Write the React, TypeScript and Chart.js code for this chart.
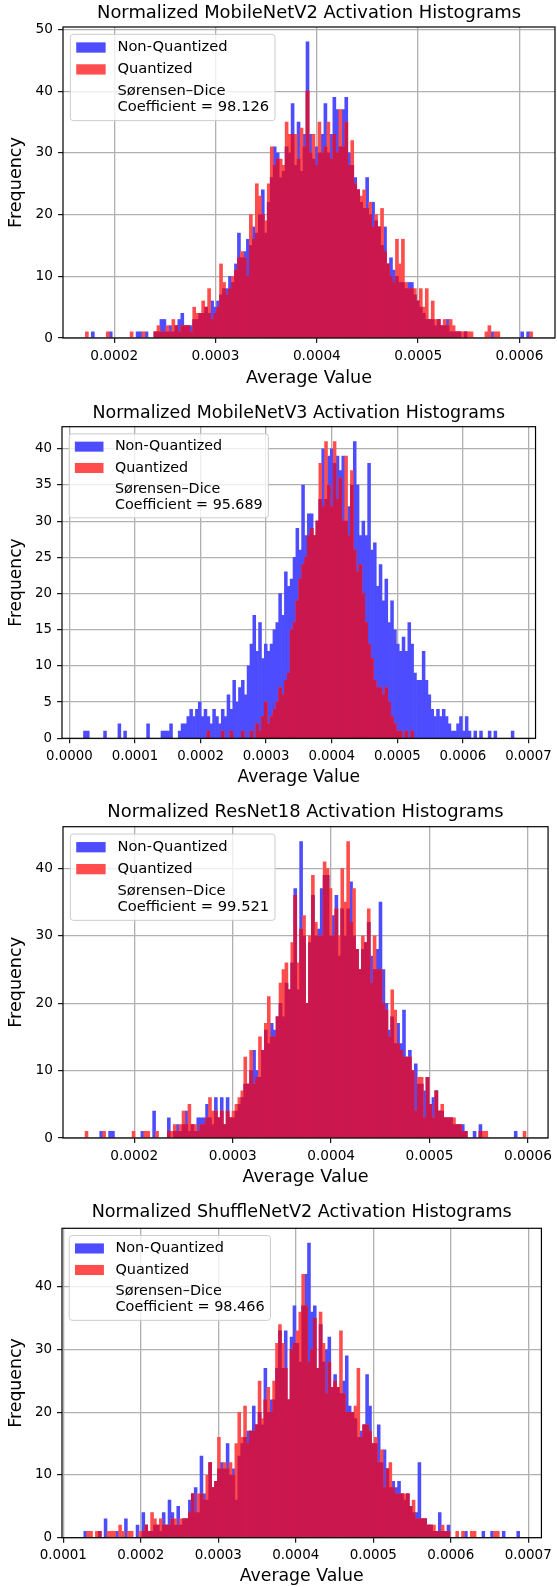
import React, { useEffect, useRef } from 'react';
import { Chart, registerables } from 'chart.js';

Chart.register(...registerables);

// ---------------- data ----------------
const seriesLabels = ['Non-Quantized', 'Quantized'];
const xAxisTitle = 'Average Value';
const yAxisTitle = 'Frequency';
const diceLabel = 'Sørensen–Dice';

// MobileNetV2
const v2Title = 'Normalized MobileNetV2 Activation Histograms';
const v2Dice = 'Coefficient = 98.126';
const v2BinRange = [0.0001715, 0.000613];
const v2AxisRange = [0.0001494, 0.0006351];
const v2NonQuantized = [
  0,0,1,0,0,0,0,0,1,0, 0,0,0,0,0,0,0,1,1,0, 1,0,0,1,1,3,3,1,2,1, 2,3,4,2,2,2,3,3,4,4,
  5,4,6,5,6,7,8,8,10,9, 12,17,13,14,16,15,18,17,20,24, 17,22,26,31,30,26,27,31,30,38,
  28,35,27,33,48,33,29,31,30,33, 38,30,33,39,37,31,37,39,30,28, 26,24,22,21,26,20,22,19,18,15,
  18,12,13,11,10,9,9,8,9,9, 7,6,5,4,3,3,3,2,3,2, 2,3,1,1,1,1,0,1,0,0,
  0,0,0,0,0,0,1,0,0,0, 0,0,0,0,0,0,1,0,1,0,
];
const v2Quantized = [
  1,0,0,0,0,0,0,1,0,0, 0,0,0,0,0,1,0,0,0,1, 0,0,0,1,2,1,1,2,1,3, 2,1,2,2,2,1,5,4,4,6,
  5,8,3,4,5,12,9,7,8,10, 11,13,14,13,10,20,16,25,23,20, 19,25,31,28,29,29,28,35,33,33,
  33,29,34,31,40,30,33,28,35,30, 31,35,29,33,30,37,31,35,28,32, 25,24,23,24,21,22,18,20,18,21,
  14,12,10,9,16,12,16,9,8,8, 8,6,8,5,8,3,6,3,3,2, 3,2,3,2,1,1,1,1,1,1,
  0,0,0,0,1,2,0,1,1,0, 0,0,0,0,0,0,0,0,0,1,
];
const v2XTicks = [0.0002, 0.0003, 0.0004, 0.0005, 0.0006];
const v2YTicks = [0, 10, 20, 30, 40, 50];

// MobileNetV3
const v3Title = 'Normalized MobileNetV3 Activation Histograms';
const v3Dice = 'Coefficient = 95.689';
const v3BinRange = [0.0000215, 0.000678];
const v3AxisRange = [-0.0000113, 0.0007108];
const v3NonQuantized = [
  1,1,0,0,0,0,0,1,0,0, 0,0,2,0,1,0,0,0,0,0, 0,0,2,0,0,0,0,1,1,1, 2,0,0,1,2,2,3,4,3,4,
  5,3,4,3,2,4,3,2,4,3, 6,4,8,5,7,8,6,10,13,17, 12,16,11,13,12,13,15,16,20,17,
  23,21,22,25,29,26,35,28,31,31, 28,30,33,40,33,39,40,38,39,37, 39,30,32,35,41,35,28,30,28,38,
  26,27,21,24,19,22,16,19,15,13, 12,14,12,16,13,9,8,8,12,8, 6,4,3,4,3,4,3,2,1,1,
  2,3,1,3,1,0,1,0,1,0, 0,1,0,1,0,0,0,0,0,1,
];
const v3Quantized = [
  0,0,0,0,0,0,0,0,0,0, 0,0,0,0,0,0,0,0,0,0, 0,0,0,0,0,0,0,0,0,0, 0,0,0,0,0,0,0,0,0,0,
  0,0,0,1,0,0,0,0,1,0, 0,1,0,0,0,1,0,0,1,0, 2,1,3,5,2,3,4,5,7,6,
  8,9,15,16,19,22,24,25,28,29, 28,30,38,32,41,35,32,41,33,36, 30,39,28,37,26,23,24,20,16,13,
  11,8,7,7,6,7,5,3,2,1, 1,0,1,0,1,0,0,0,0,0, 0,0,0,0,0,0,0,0,0,0,
  0,0,0,0,0,0,0,0,0,0, 0,0,0,0,0,0,0,0,0,0,
];
const v3XTicks = [0, 0.0001, 0.0002, 0.0003, 0.0004, 0.0005, 0.0006, 0.0007];
const v3YTicks = [0, 5, 10, 15, 20, 25, 30, 35, 40];

// ResNet18
const r18Title = 'Normalized ResNet18 Activation Histograms';
const r18Dice = 'Coefficient = 99.521';
const r18BinRange = [0.00015, 0.000598];
const r18AxisRange = [0.0001276, 0.0006204];
const r18NonQuantized = [
  0,0,0,0,0,1,0,0,1,1, 0,0,0,0,0,0,0,0,0,1, 0,0,0,4,0,0,0,0,3,0, 1,2,1,2,4,1,2,1,3,3,
  3,5,3,2,6,3,6,2,6,3, 3,4,5,6,8,8,10,13,10,9, 13,16,14,17,16,18,20,18,23,22,
  26,37,22,44,30,20,29,36,30,31, 37,39,39,30,33,36,27,34,30,34, 38,30,28,25,28,29,32,27,25,28,
  35,25,20,16,18,14,17,14,19,12, 13,10,11,8,8,7,9,5,6,7, 4,4,3,3,3,2,2,2,2,1,
  0,0,1,0,2,0,0,0,0,0, 0,0,0,0,0,0,1,0,0,0,
];
const r18Quantized = [
  1,0,0,0,0,0,1,0,0,0, 0,0,0,0,0,0,1,0,0,0, 1,1,0,0,1,0,0,0,1,1, 2,1,2,4,2,5,2,2,1,2,
  2,3,6,4,4,3,4,2,4,3, 4,5,6,7,12,8,13,8,9,15, 13,17,21,15,15,18,23,25,26,22,
  29,36,26,31,33,20,30,39,32,30, 30,41,40,37,30,34,30,40,35,44, 32,37,28,25,30,29,34,23,30,25,
  25,20,19,15,22,19,14,13,12,12, 12,10,4,9,9,3,9,5,3,7, 4,5,3,3,3,3,2,2,1,1,
  0,0,0,0,1,1,1,0,0,0, 0,0,0,0,0,0,0,0,0,1,
];
const r18XTicks = [0.0002, 0.0003, 0.0004, 0.0005, 0.0006];
const r18YTicks = [0, 10, 20, 30, 40];

// ShuffleNetV2
const snTitle = 'Normalized ShuffleNetV2 Activation Histograms';
const snDice = 'Coefficient = 98.466';
const snBinRange = [0.0001264, 0.000689];
const snAxisRange = [0.0000983, 0.0007171];
const snNonQuantized = [
  1,0,0,0,0,1,0,3,0,0, 0,1,0,0,3,0,0,0,2,0, 4,2,1,1,2,2,1,4,2,6, 4,2,5,2,3,3,6,7,8,4,
  13,7,6,12,8,9,11,12,11,15, 10,11,6,13,15,16,17,17,21,18, 20,18,27,20,22,22,27,33,27,33,
  22,32,37,31,28,37,42,47,36,37, 27,34,28,30,32,24,26,24,23,25, 29,21,20,19,16,17,18,26,21,15,
  15,18,12,14,11,8,9,8,9,7, 6,7,5,4,4,12,3,3,2,2, 1,1,4,1,1,2,0,0,0,0,
  0,1,0,0,0,0,0,1,0,0, 1,0,0,0,1,0,0,0,0,1,
];
const snQuantized = [
  0,1,1,0,1,1,0,0,1,1, 1,0,2,1,0,1,1,0,0,1, 1,2,1,4,3,2,3,2,2,2, 3,3,2,3,3,3,4,7,4,7,
  7,6,10,12,8,9,16,11,12,11, 12,10,15,20,16,21,15,17,17,18, 25,19,22,24,20,25,31,34,31,27,
  22,30,31,33,36,42,37,28,30,35, 27,36,31,23,28,24,25,24,33,23, 20,20,20,21,27,16,18,18,17,15,
  16,12,14,8,11,12,8,7,7,7, 7,7,5,6,3,3,3,3,2,2, 2,1,1,2,1,1,0,0,1,0,
  1,0,0,1,1,0,0,0,0,0, 0,1,1,0,0,0,0,0,0,0,
];
const snXTicks = [0.0001, 0.0002, 0.0003, 0.0004, 0.0005, 0.0006, 0.0007];
const snYTicks = [0, 10, 20, 30, 40];

// ---------------- styling / layout ----------------
const BLUE = 'rgb(77,77,255)';      // blue @ alpha .7 on white
const RED = 'rgb(255,77,77)';       // red @ alpha .7 on white
const MIX = 'rgb(202,23,77)';       // red .7 over blue .7
const FONT = '"DejaVu Sans", "Liberation Sans", sans-serif';
const W = 557;

const panels = [
  { title: v2Title, dice: v2Dice, binRange: v2BinRange, axisRange: v2AxisRange, nq: v2NonQuantized, q: v2Quantized, xTicks: v2XTicks, yTicks: v2YTicks },
  { title: v3Title, dice: v3Dice, binRange: v3BinRange, axisRange: v3AxisRange, nq: v3NonQuantized, q: v3Quantized, xTicks: v3XTicks, yTicks: v3YTicks },
  { title: r18Title, dice: r18Dice, binRange: r18BinRange, axisRange: r18AxisRange, nq: r18NonQuantized, q: r18Quantized, xTicks: r18XTicks, yTicks: r18YTicks },
  { title: snTitle, dice: snDice, binRange: snBinRange, axisRange: snAxisRange, nq: snNonQuantized, q: snQuantized, xTicks: snXTicks, yTicks: snYTicks },
];

const layouts = [
  { top: 0, height: 400, plotTop: 27, plotBottom: 338, plotLeft: 63, plotRight: 555, s: 1, titleY: 13.3, xTitleY: 378 },
  { top: 400, height: 400, plotTop: 26.7, plotBottom: 338.3, plotLeft: 62, plotRight: 541.5, s: 0.973, titleY: 13.3, xTitleY: 377.7 },
  { top: 800, height: 400, plotTop: 26.7, plotBottom: 338, plotLeft: 63, plotRight: 555, s: 1, titleY: 12.5, xTitleY: 377.3 },
  { top: 1200, height: 387, plotTop: 28.3, plotBottom: 337.7, plotLeft: 62, plotRight: 546.7, s: 0.983, titleY: 12.7, xTitleY: 377 },
];

function binCenters(range: number[], n: number): number[] {
  const w = (range[1] - range[0]) / n;
  return Array.from({ length: n }, (_, i) => range[0] + (i + 0.5) * w);
}

function roundRectPath(ctx: CanvasRenderingContext2D, x: number, y: number, w: number, h: number, r: number) {
  ctx.beginPath();
  ctx.moveTo(x + r, y);
  ctx.lineTo(x + w - r, y);
  ctx.arcTo(x + w, y, x + w, y + r, r);
  ctx.lineTo(x + w, y + h - r);
  ctx.arcTo(x + w, y + h, x + w - r, y + h, r);
  ctx.lineTo(x + r, y + h);
  ctx.arcTo(x, y + h, x, y + h - r, r);
  ctx.lineTo(x, y + r);
  ctx.arcTo(x, y, x + r, y, r);
  ctx.closePath();
}

function makeDecor(p: any, L: any, idx: number) {
  return {
    id: 'decor' + idx,
    afterDraw(chart: any) {
      const { ctx, chartArea: a } = chart;
      ctx.save();
      // axes frame
      ctx.strokeStyle = '#000';
      ctx.lineWidth = 1.2;
      ctx.strokeRect(a.left, a.top, a.right - a.left, a.bottom - a.top);
      // title
      ctx.fillStyle = '#000';
      ctx.font = `${17.9 * L.s}px ${FONT}`;
      ctx.textAlign = 'center';
      ctx.textBaseline = 'middle';
      ctx.fillText(p.title, (a.left + a.right) / 2, L.titleY);
      // legend
      const f = 14.7 * L.s;
      ctx.font = `${f}px ${FONT}`;
      const lines = [seriesLabels[0], seriesLabels[1], diceLabel, p.dice];
      const maxW = Math.max(...lines.map((t) => ctx.measureText(t).width));
      const bx = a.left + 0.5 * f;
      const by = a.top + 0.5 * f;
      const hx = bx + 0.4 * f;
      const tx = hx + 2 * f + 0.8 * f;
      const rh = 0.99 * f;
      const r1 = by + 0.4 * f;
      const r2 = r1 + rh + 0.5 * f;
      const r3 = r2 + rh + 0.5 * f;
      const bottom = r3 + rh + 1.1 * f + 0.4 * f;
      const right = tx + maxW + 0.4 * f;
      roundRectPath(ctx, bx, by, right - bx, bottom - by, 0.2 * f);
      ctx.fillStyle = 'rgba(255,255,255,0.8)';
      ctx.fill();
      ctx.strokeStyle = '#cccccc';
      ctx.lineWidth = 1;
      ctx.stroke();
      ctx.fillStyle = BLUE;
      ctx.fillRect(hx, r1 + rh / 2 - 0.35 * f, 2 * f, 0.7 * f);
      ctx.fillStyle = RED;
      ctx.fillRect(hx, r2 + rh / 2 - 0.35 * f, 2 * f, 0.7 * f);
      ctx.fillStyle = '#000';
      ctx.textAlign = 'left';
      ctx.textBaseline = 'middle';
      ctx.fillText(lines[0], tx, r1 + rh / 2);
      ctx.fillText(lines[1], tx, r2 + rh / 2);
      ctx.fillText(lines[2], tx, r3 + rh / 2);
      ctx.fillText(lines[3], tx, r3 + rh / 2 + 1.1 * f);
      ctx.restore();
    },
  };
}

function Panel({ idx }: { idx: number }) {
  const ref = useRef<HTMLCanvasElement>(null);
  const p = panels[idx];
  const L = layouts[idx];
  useEffect(() => {
    if (!ref.current) return;
    const xs = binCenters(p.binRange, p.nq.length);
    const pts = (arr: number[]) => arr.map((y, i) => ({ x: xs[i], y: y === 0 ? null : y }));
    const overlap = p.nq.map((v: number, i: number) => Math.min(v, p.q[i]));
    const barCommon = { grouped: false, barPercentage: 1, categoryPercentage: 1, borderWidth: 0 };
    const yMax = Math.max(...p.nq, ...p.q) * 1.05;
    const tickSize = 13.7 * L.s;
    const axTitleSize = 17.6 * L.s;
    const lh = axTitleSize * 1.2;
    const gridStyle = { color: '#b0b0b0', lineWidth: 1.3, tickColor: '#000', tickLength: 5, tickWidth: 1.1, drawTicks: true, offset: false };
    const chart = new Chart(ref.current, {
      type: 'bar',
      data: {
        datasets: [
          { label: seriesLabels[0], data: pts(p.nq), backgroundColor: BLUE, order: 3, ...barCommon },
          { label: seriesLabels[1], data: pts(p.q), backgroundColor: RED, order: 2, ...barCommon },
          { label: 'overlap', data: pts(overlap), backgroundColor: MIX, order: 1, ...barCommon },
        ] as any,
      },
      options: {
        animation: false,
        responsive: false,
        maintainAspectRatio: false,
        devicePixelRatio: 1,
        events: [],
        layout: { padding: { left: 0, top: L.plotTop, right: W - L.plotRight, bottom: 0 } },
        plugins: { legend: { display: false }, tooltip: { enabled: false }, title: { display: false } },
        scales: {
          x: {
            type: 'linear',
            min: p.axisRange[0],
            max: p.axisRange[1],
            bounds: 'data',
            offset: false,
            z: 1,
            grid: gridStyle,
            border: { display: false },
            ticks: {
              color: '#000',
              font: { family: FONT, size: tickSize },
              padding: 5,
              maxRotation: 0,
              minRotation: 0,
              autoSkip: false,
              callback: (v: any) => Number(v).toFixed(4),
            },
            afterBuildTicks: (s: any) => { s.ticks = p.xTicks.map((v: number) => ({ value: v })); },
            afterFit: (s: any) => { s.height = L.height - L.plotBottom; },
            title: {
              display: true,
              text: xAxisTitle,
              color: '#000',
              font: { family: FONT, size: axTitleSize },
              padding: { top: 0, bottom: (L.height - L.xTitleY) - lh / 2 },
            },
          },
          y: {
            type: 'linear',
            min: 0,
            max: yMax,
            bounds: 'data',
            z: 1,
            grid: gridStyle,
            border: { display: false },
            ticks: {
              color: '#000',
              font: { family: FONT, size: tickSize },
              padding: 5,
              autoSkip: false,
              callback: (v: any) => String(v),
            },
            afterBuildTicks: (s: any) => { s.ticks = p.yTicks.map((v: number) => ({ value: v })); },
            afterFit: (s: any) => { s.width = L.plotLeft; },
            title: {
              display: true,
              text: yAxisTitle,
              color: '#000',
              font: { family: FONT, size: axTitleSize },
              padding: { top: 16.7 - lh / 2, bottom: 0 },
            },
          },
        },
      } as any,
      plugins: [makeDecor(p, L, idx)],
    });
    return () => chart.destroy();
  }, []);
  return (
    <canvas
      ref={ref}
      width={W}
      height={L.height}
      style={{ position: 'absolute', left: 0, top: L.top, width: W, height: L.height, display: 'block' }}
    />
  );
}

export default function App() {
  return (
    <div style={{ position: 'absolute', left: 0, top: 0, width: W, height: 1587, overflow: 'hidden', background: '#fff' }}>
      {panels.map((_, i) => (
        <Panel key={i} idx={i} />
      ))}
    </div>
  );
}
